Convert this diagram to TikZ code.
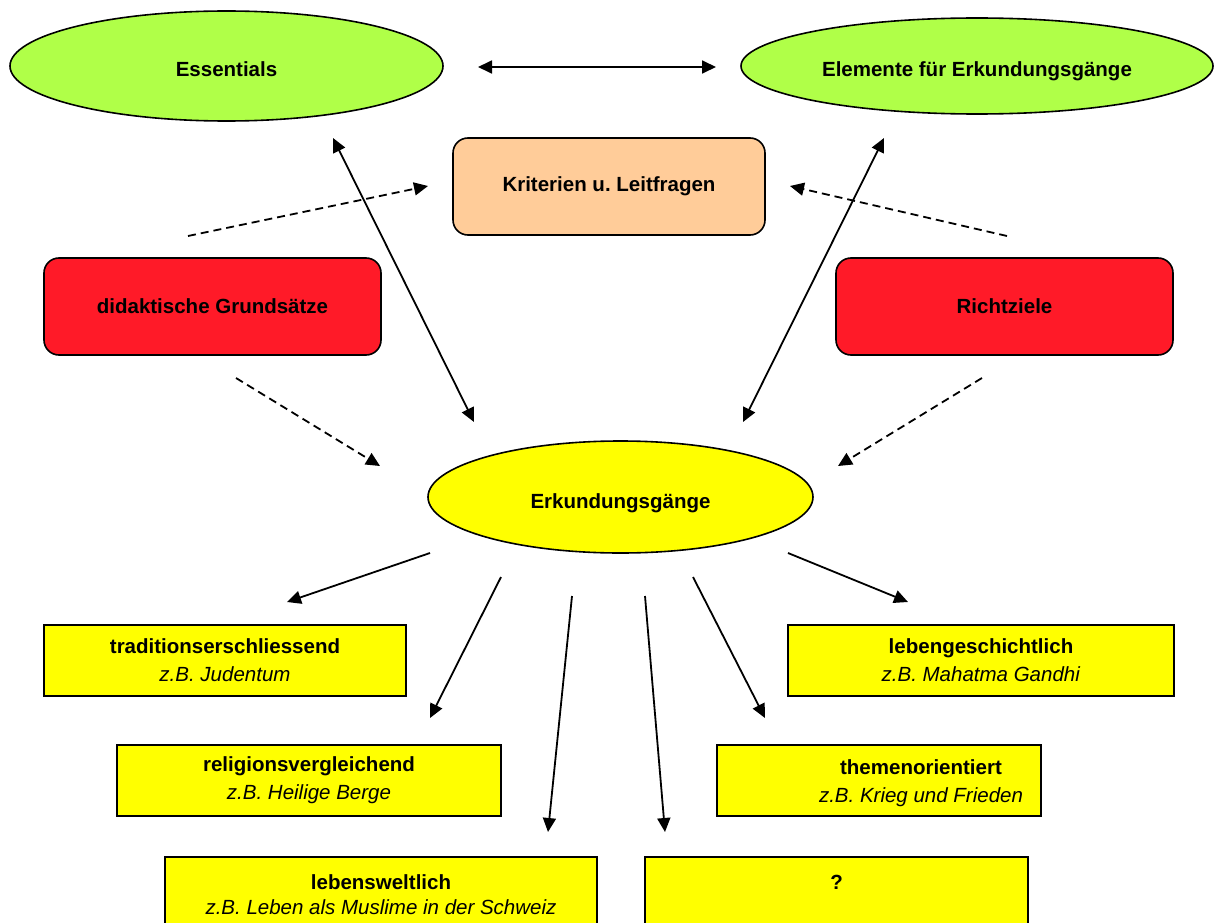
\documentclass[tikz,border=0pt]{standalone}
\usepackage{fontspec}
\setmainfont{Liberation Sans}
\usetikzlibrary{arrows.meta,shapes.geometric}
\definecolor{lgreen}{RGB}{176,255,72}
\definecolor{peach}{RGB}{255,204,153}
\definecolor{lred}{RGB}{255,26,40}
\definecolor{yel}{RGB}{255,255,0}
\frenchspacing
\begin{document}
\begin{tikzpicture}[x=1pt,y=-1pt,
  every node/.style={font=\fontsize{20.5}{28}\selectfont, inner sep=0pt},
  ell/.style={ellipse, draw, line width=1.6pt, text height=22pt, text depth=0pt},
  rbox/.style={rounded corners=15pt, draw, line width=1.6pt},
  ybox/.style={draw, line width=2pt, fill=yel, align=center},
  tip/.tip={Triangle[length=14pt,width=13pt]},
  arr/.style={line width=1.8pt, -tip},
  darr/.style={line width=1.8pt, tip-tip},
  dasharr/.style={line width=1.8pt, -tip, dash pattern=on 8pt off 5pt}]
\useasboundingbox (0,0) rectangle (1215,923);
\fill[white] (0,0) rectangle (1215,923);
\clip (0,0) rectangle (1215,923);

% top ellipses
\node[ell, fill=lgreen, minimum width=433pt, minimum height=110pt] (ess) at (226.5,66) {\textbf{Essentials}};
\node[ell, fill=lgreen, minimum width=472pt, minimum height=96pt] (elem) at (977,66) {\textbf{Elemente für Erkundungsgänge}};

% boxes
\node[rbox, fill=peach, minimum width=312pt, minimum height=97pt] (krit) at (609,186.5) {\textbf{Kriterien u. Leitfragen}};
\node[rbox, fill=lred, minimum width=337pt, minimum height=97pt] (did) at (212.5,306.5) {\textbf{didaktische Grundsätze}};
\node[rbox, fill=lred, minimum width=337pt, minimum height=97pt] (richt) at (1004.5,306.5) {\textbf{Richtziele}};

% central ellipse
\node[ell, fill=yel, minimum width=385pt, minimum height=112pt] (erk) at (620.5,497) {\textbf{Erkundungsgänge}};

% yellow boxes
\node[ybox, minimum width=362pt, minimum height=71pt] (trad) at (225,660.5) {\textbf{traditionserschliessend}\\\textit{z.B. Judentum}};
\node[ybox, minimum width=386pt, minimum height=71pt] (lgesch) at (981,660.5) {\textbf{lebengeschichtlich}\\\textit{z.B. Mahatma Gandhi}};
\node[ybox, minimum width=384pt, minimum height=71pt] (relig) at (309,780.5) {\textbf{religionsvergleichend}\\\textit{z.B. Heilige Berge}};
\node[ybox, minimum width=324pt, minimum height=71pt] (thema) at (879,780.5) {};
\node[align=center] (thematext) at (921,783) {\textbf{themenorientiert}\\\textit{z.B. Krieg und Frieden}};
\node[ybox, minimum width=432pt, minimum height=76pt, font=\fontsize{20.5}{25}\selectfont] (lebw) at (381,895) {\textbf{lebensweltlich}\\\textit{z.B. Leben als Muslime in der Schweiz}};
\node[ybox, minimum width=383pt, minimum height=76pt, font=\fontsize{20.5}{25}\selectfont] (frage) at (836.5,895) {\textbf{?}\\\mbox{}};

% connector end points
\coordinate (a1) at (478,67);   \coordinate (a2) at (716,67);
\coordinate (b1) at (333,138);  \coordinate (b2) at (474,422);
\coordinate (c1) at (884,138);  \coordinate (c2) at (743,422);
\coordinate (d1) at (188,236);  \coordinate (d2) at (428,186);
\coordinate (e1) at (1007,236); \coordinate (e2) at (790,186);
\coordinate (f1) at (236,378);  \coordinate (f2) at (380,466);
\coordinate (g1) at (982,378);  \coordinate (g2) at (838,466);
\coordinate (h1) at (430,553);  \coordinate (h2) at (287,602);
\coordinate (i1) at (501,577);  \coordinate (i2) at (430,718);
\coordinate (j1) at (572,596);  \coordinate (j2) at (548,832);
\coordinate (k1) at (645,596);  \coordinate (k2) at (665,832);
\coordinate (l1) at (693,577);  \coordinate (l2) at (765,718);
\coordinate (m1) at (788,553);  \coordinate (m2) at (908,602);

\draw[darr] (a1) -- (a2);
\draw[darr] (b1) -- (b2);
\draw[darr] (c1) -- (c2);
\draw[dasharr] (d1) -- (d2);
\draw[dasharr] (e1) -- (e2);
\draw[dasharr] (f1) -- (f2);
\draw[dasharr] (g1) -- (g2);
\draw[arr] (h1) -- (h2);
\draw[arr] (i1) -- (i2);
\draw[arr] (j1) -- (j2);
\draw[arr] (k1) -- (k2);
\draw[arr] (l1) -- (l2);
\draw[arr] (m1) -- (m2);
\end{tikzpicture}
\end{document}
